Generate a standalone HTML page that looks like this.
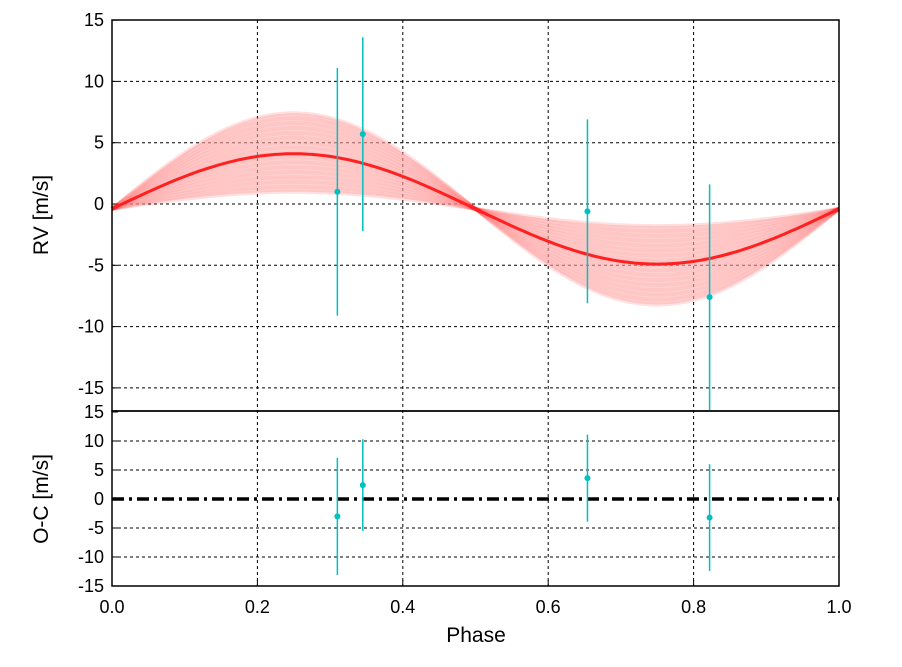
<!DOCTYPE html>
<html><head><meta charset="utf-8"><style>
body{margin:0;background:#fff}
svg text{font-family:"Liberation Sans",sans-serif;fill:#000}
</style></head><body>
<svg id="c" width="902" height="662" xmlns="http://www.w3.org/2000/svg"></svg>
<script>
const phases=[0.31,0.345,0.654,0.822];
const rvValues=[1.0,5.7,-0.6,-7.6];
const rvErrors=[10.1,7.9,7.5,9.2];
const residuals=[-3.0,2.4,3.6,-3.2];
const modelK=[4.5];
const modelOffset=-0.4;
const bandK=[1.4,1.8,2.2,2.6,3.0,3.4,3.8,4.2,4.6,5.0,5.4,5.8,6.2,6.6,7.0,7.4,7.8];
const xTicks=[0,0.2,0.4,0.6,0.8,1.0];
const rvTicks=[15,10,5,0,-5,-10,-15];
const ocTicks=[15,10,5,0,-5,-10,-15];

const NS="http://www.w3.org/2000/svg";
const svg=document.getElementById('c');
const L=112,R=839,T1=20,B1=411,T2=411,B2=586;
const X=p=>L+p*(R-L);
const Y1=v=>204-v*12.26;
const Y2=v=>499-v*5.8;
function el(tag,attrs,parent){const e=document.createElementNS(NS,tag);for(const k in attrs)e.setAttribute(k,attrs[k]);(parent||svg).appendChild(e);return e;}

const grid=el('g',{});


xTicks.slice(1,-1).forEach(t=>{
  el('line',{x1:X(t),x2:X(t),y1:T1,y2:B2,stroke:'#000','stroke-width':1,'stroke-dasharray':'3,3'},grid);
});
rvTicks.forEach(t=>{if(Y1(t)>T1+2&&Y1(t)<B1-2)el('line',{x1:L,x2:R,y1:Y1(t),y2:Y1(t),stroke:'#000','stroke-dasharray':'3,3'},grid);
el('line',{x1:L,x2:L+6,y1:Y1(t),y2:Y1(t),stroke:'#000'});});
ocTicks.forEach(t=>{if(Y2(t)>T2+2&&Y2(t)<B2-2&&t!==0)el('line',{x1:L,x2:R,y1:Y2(t),y2:Y2(t),stroke:'#000','stroke-dasharray':'3,3'},grid);
el('line',{x1:L,x2:L+6,y1:Y2(t),y2:Y2(t),stroke:'#000'});});

function curve(K){let d='';for(let i=0;i<=200;i++){const p=i/200;const v=K*Math.sin(2*Math.PI*p)+modelOffset;d+=(i?'L':'M')+X(p).toFixed(1)+','+Y1(v).toFixed(1);}return d;}
const band=el('g',{});


bandK.forEach(K=>{const pth=el('path',{d:curve(K),fill:'none',stroke:'#ff0000','stroke-opacity':0.12,'stroke-width':4},band);

});
let fd=curve(bandK[bandK.length-1]);
{let d='';for(let i=200;i>=0;i--){const p=i/200;const v=bandK[0]*Math.sin(2*Math.PI*p)+modelOffset;d+='L'+X(p).toFixed(1)+','+Y1(v).toFixed(1);}fd+=d+'Z';}
const bf=el('path',{d:fd,fill:'#ffb0b0','fill-opacity':0.55,stroke:'none'},band);


const mc=el('path',{d:curve(modelK[0]),fill:'none',stroke:'#ff2020','stroke-width':3});



const zl=el('line',{x1:L,x2:R,y1:Y2(0),y2:Y2(0),stroke:'#000','stroke-width':3.5,'stroke-dasharray':'12,5,3,5'});



phases.forEach((p,i)=>{
  const x=X(p);
  const e1=el('line',{x1:x,x2:x,y1:Y1(rvValues[i]+rvErrors[i]),y2:Math.min(B1,Y1(rvValues[i]-rvErrors[i])),stroke:'#00c0c0','stroke-width':1.5});
  
  
  const c1=el('circle',{cx:x,cy:Y1(rvValues[i]),r:3,fill:'#00c0c0'});
  
  
  const e2=el('line',{x1:x,x2:x,y1:Y2(residuals[i]+rvErrors[i]),y2:Y2(residuals[i]-rvErrors[i]),stroke:'#00c0c0','stroke-width':1.5});
  
  
  const c2=el('circle',{cx:x,cy:Y2(residuals[i]),r:3,fill:'#00c0c0'});
  
  
});

const f1=el('rect',{x:L,y:T1,width:R-L,height:B1-T1,fill:'none',stroke:'#000','stroke-width':1.5});


const f2=el('rect',{x:L,y:T2,width:R-L,height:B2-T2,fill:'none',stroke:'#000','stroke-width':1.5});



xTicks.forEach(t=>{const tx=el('text',{x:X(t),y:613,'text-anchor':'middle','font-size':18});tx.textContent=t.toFixed(1);


el('line',{x1:X(t),x2:X(t),y1:B2,y2:B2-6,stroke:'#000'});});
rvTicks.forEach(t=>{const tx=el('text',{x:104,y:Y1(t)+6,'text-anchor':'end','font-size':18});tx.textContent=t;

});
ocTicks.forEach(t=>{const tx=el('text',{x:104,y:Y2(t)+6,'text-anchor':'end','font-size':18});tx.textContent=t;

});

const a1=el('text',{x:0,y:0,'font-size':21,'text-anchor':'middle',transform:'translate(48,215) rotate(-90)'});a1.textContent='RV [m/s]';


const a2=el('text',{x:0,y:0,'font-size':21,'text-anchor':'middle',transform:'translate(48,499) rotate(-90)'});a2.textContent='O-C [m/s]';


const a3=el('text',{x:476,y:642,'font-size':21,'text-anchor':'middle'});a3.textContent='Phase';


</script>
</body></html>
